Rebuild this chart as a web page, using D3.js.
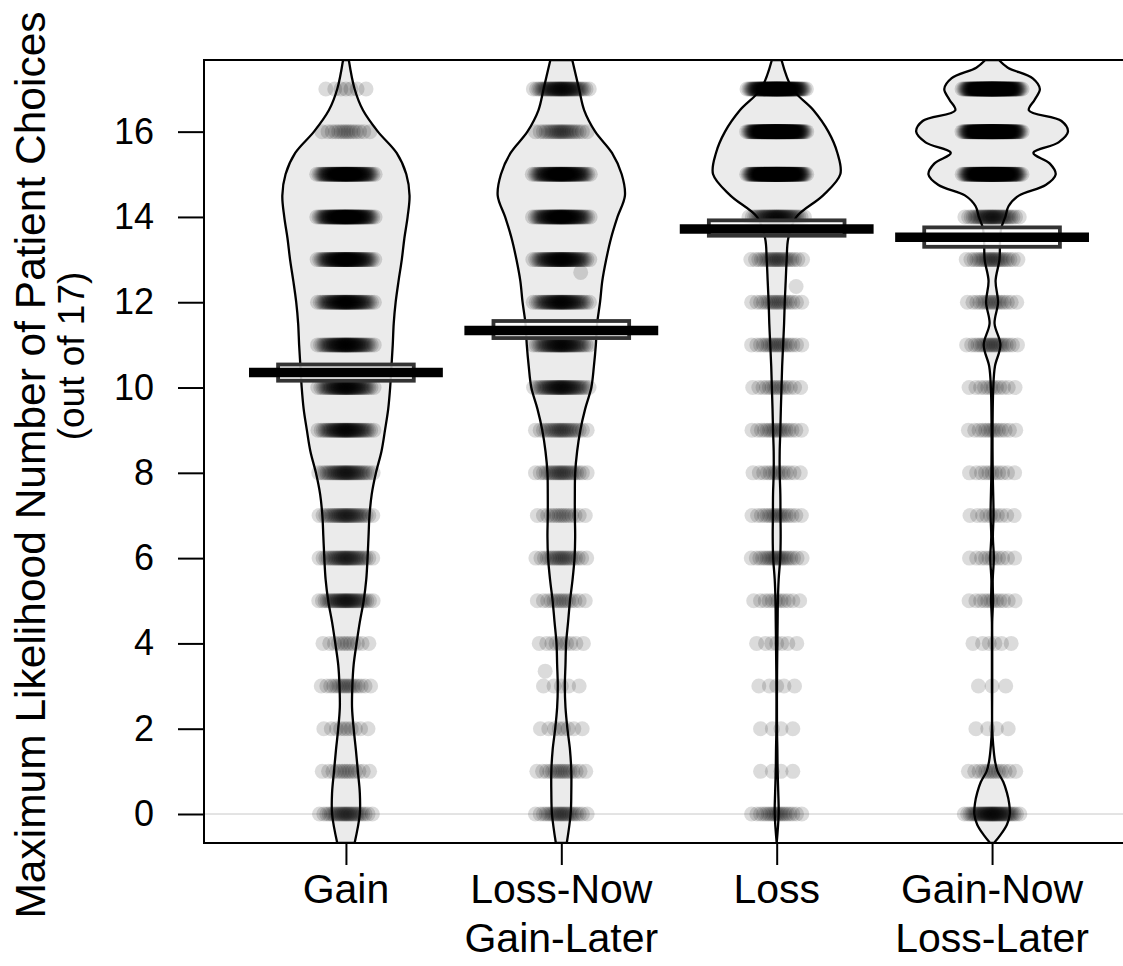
<!DOCTYPE html>
<html>
<head>
<meta charset="utf-8">
<script src="https://cdn.jsdelivr.net/npm/d3@7"></script>
<style>
  body { margin: 0; background: #fff; }
  text { font-family: "Liberation Sans", Arial, Helvetica, sans-serif; fill: #000; }
</style>
</head>
<body>
<div id="chart"></div>
<script>
// conditions (x axis), "\n" splits a label in two lines
var groups = ["Gain", "Loss-Now\nGain-Later", "Loss", "Gain-Now\nLoss-Later"];

// possible answers 0..17 and how many participants gave each one
var levels = [0, 1, 2, 3, 4, 5, 6, 7, 8, 9, 10, 11, 12, 13, 14, 15, 16, 17];
var countsGain = [30, 14, 10, 18, 12, 40, 35, 35, 40, 55, 60, 65, 70, 85, 105, 110, 15, 7];
var countsLNGL = [25, 17, 8, 5, 10, 15, 22, 15, 25, 25, 50, 55, 60, 70, 85, 95, 25, 55];
var countsLoss = [20, 4, 4, 5, 7, 12, 22, 18, 14, 18, 15, 20, 20, 25, 50, 200, 200, 150];
var countsGNLL = [50, 14, 4, 3, 6, 12, 11, 10, 11, 14, 12, 22, 18, 25, 40, 180, 210, 200];

// a few off-level estimates: [group index, value]
var extraPoints = [[1, 12.7], [1, 3.35], [2, 12.37]];

// 95% HDI of the mean
var hdiLow  = [10.16, 11.16, 13.56, 13.30];
var hdiHigh = [10.54, 11.56, 13.92, 13.755];

var yTicks = [0, 2, 4, 6, 8, 10, 12, 14, 16];

// smoothed density of each bean: [value, relative density]
var beanGain = [[-0.68,.15],[0,.23],[0.5,.23],[1,.20],[1.5,.17],[2,.135],[2.5,.11],[3,.115],[3.5,.135],[4,.18],[4.5,.23],[5,.29],[5.5,.33],[6,.35],[6.5,.365],[7,.38],[7.5,.415],[8,.48],[8.5,.565],[9,.62],[9.5,.67],[10,.70],[10.5,.72],[11,.74],[11.5,.755],[12,.785],[12.5,.83],[13,.88],[13.5,.92],[14,.97],[14.5,1.0],[15,.95],[15.5,.80],[16,.51],[16.5,.28],[17,.15],[17.68,.06]];
var beanLNGL = [[-0.68,.10],[0,.16],[0.5,.17],[1,.17],[1.5,.15],[2,.11],[2.5,.08],[3,.07],[3.5,.08],[4,.09],[4.5,.12],[5,.15],[5.5,.19],[6,.22],[6.5,.23],[7,.225],[7.5,.225],[8,.23],[8.5,.26],[9,.31],[9.5,.385],[10,.48],[10.5,.52],[11,.55],[11.5,.57],[12,.615],[12.5,.65],[13,.71],[13.5,.785],[14,.885],[14.5,1.0],[15,.95],[15.5,.80],[16,.54],[16.5,.37],[17,.29],[17.68,.185]];
var beanLoss = [[-0.68,.01],[0,.046],[0.5,.04],[1,.03],[1.5,.026],[2,.02],[3,.02],[4,.026],[4.5,.03],[5,.034],[5.5,.046],[6,.07],[6.5,.077],[7,.074],[7.5,.072],[8,.062],[8.5,.062],[9,.072],[9.5,.08],[10,.09],[10.5,.10],[11,.115],[11.5,.13],[12,.14],[12.5,.155],[13,.17],[13.5,.195],[14,.32],[14.5,.73],[15,1.0],[15.5,.955],[16,.815],[16.5,.585],[17,.26],[17.68,.09]];
var beanGNLL = [[-0.68,.045],[-0.5,.14],[-0.25,.245],[0,.29],[0.25,.28],[0.5,.245],[0.75,.19],[1,.10],[1.25,.06],[1.6,.034],[2,.018],[3,.018],[4,.018],[4.5,.018],[5,.03],[5.5,.026],[6,.043],[6.5,.028],[7,.038],[8,.026],[9,.023],[10,.034],[10.5,.06],[11,.145],[11.5,.054],[12,.108],[12.5,.07],[13,.13],[13.5,.14],[13.75,.16],[14,.22],[14.25,.27],[14.5,.43],[14.75,.845],[15,1.0],[15.25,.91],[15.5,.655],[15.75,1.045],[16,1.19],[16.25,1.09],[16.5,.585],[16.75,.675],[17,.755],[17.25,.645],[17.5,.26],[17.68,.12]];

var counts = [countsGain, countsLNGL, countsLoss, countsGNLL];
var beans = [beanGain, beanLNGL, beanLoss, beanGNLL];

// location and scale of the graph
var W = 1123, H = 966;
var plot = {left: 204, right: 1134, top: 60, bottom: 843};

var svg = d3.select("#chart")
  .append("svg")
  .attr("width", W)
  .attr("height", H);

var x = d3.scaleLinear().domain([0.341, 4.659]).range([plot.left, plot.right]);
var y = d3.scaleLinear().domain([-0.68, 17.68]).range([plot.bottom, plot.top]);

var beanMax = 0.30;     // half width of the widest bean, in x units
var jitterAmt = 0.15;   // horizontal jitter of points, in x units
var avgHalf = 0.45, infHalf = 0.315;

svg.append("clipPath").attr("id", "plotclip")
  .append("rect")
  .attr("x", plot.left).attr("y", plot.top)
  .attr("width", plot.right - plot.left).attr("height", plot.bottom - plot.top);

var inner = svg.append("g").attr("clip-path", "url(#plotclip)");

// reference line at 0
inner.append("line")
  .attr("x1", plot.left).attr("x2", plot.right)
  .attr("y1", y(0)).attr("y2", y(0))
  .attr("stroke", "#c8c8c8").attr("stroke-width", 1);

// beans
function beanArea(g) {
  var c = g + 1;
  return d3.area()
    .curve(d3.curveCatmullRom)
    .y(function(d) { return y(d[0]); })
    .x0(function(d) { return Math.min(x(c), x(c - d[1] * beanMax) + 1); })
    .x1(function(d) { return Math.max(x(c), x(c + d[1] * beanMax) - 1); });
}

inner.selectAll(".beanfill")
  .data(beans)
  .enter()
  .append("path")
  .attr("class", "beanfill")
  .attr("d", function(d, g) { return beanArea(g)(d); })
  .attr("fill", "#ebebeb")
  .attr("stroke", "none");

// raw data points; sideways spread is fixed (quantiles of a triangle), not random
function spread(k, n) {
  var p = (k + 0.5) / n;
  return p < 0.5 ? Math.sqrt(2 * p) - 1 : 1 - Math.sqrt(2 * (1 - p));
}

var points = [];
var values = [[], [], [], []];
counts.forEach(function(row, g) {
  row.forEach(function(n, i) {
    for (var k = 0; k < n; k++) {
      points.push({g: g, v: levels[i], u: spread(k, n)});
      values[g].push(levels[i]);
    }
  });
});
extraPoints.forEach(function(p, j) {
  points.push({g: p[0], v: p[1], u: j % 2 ? -0.5 : 0.6});
  values[p[0]].push(p[1]);
});

inner.append("g")
  .selectAll("circle")
  .data(points)
  .enter()
  .append("circle")
  .attr("cx", function(d) { return x(d.g + 1 + d.u * jitterAmt); })
  .attr("cy", function(d) { return y(d.v); })
  .attr("r", 7.5)
  .attr("fill", "#000")
  .attr("fill-opacity", 0.14);

inner.selectAll(".beanline")
  .data(beans)
  .enter()
  .append("path")
  .attr("class", "beanline")
  .attr("d", function(d, g) { return beanArea(g)(d); })
  .attr("fill", "none")
  .attr("stroke", "#000")
  .attr("stroke-width", 2.3);

// inference boxes
var means = values.map(function(v) { return d3.mean(v); });

svg.append("g")
  .selectAll("rect")
  .data(groups)
  .enter()
  .append("rect")
  .attr("x", function(d, g) { return x(g + 1 - infHalf); })
  .attr("width", function(d, g) { return x(g + 1 + infHalf) - x(g + 1 - infHalf); })
  .attr("y", function(d, g) { return y(hdiHigh[g]); })
  .attr("height", function(d, g) { return y(hdiLow[g]) - y(hdiHigh[g]); })
  .attr("fill", "#fff")
  .attr("fill-opacity", 0.85)
  .attr("stroke", "#333")
  .attr("stroke-width", 3.8);

// mean bars
svg.append("g")
  .selectAll("line")
  .data(means)
  .enter()
  .append("line")
  .attr("x1", function(d, g) { return x(g + 1 - avgHalf); })
  .attr("x2", function(d, g) { return x(g + 1 + avgHalf); })
  .attr("y1", function(d) { return y(d); })
  .attr("y2", function(d) { return y(d); })
  .attr("stroke", "#000")
  .attr("stroke-width", 9.5);

// plot frame
svg.append("rect")
  .attr("x", plot.left).attr("y", plot.top)
  .attr("width", plot.right - plot.left).attr("height", plot.bottom - plot.top)
  .attr("fill", "none")
  .attr("stroke", "#000")
  .attr("stroke-width", 2);

// y axis
var yAxis = svg.append("g")
  .attr("transform", "translate(" + plot.left + ",0)")
  .call(d3.axisLeft(y).tickValues(yTicks).tickSize(26).tickPadding(24));
yAxis.select(".domain").remove();
yAxis.selectAll("line").attr("stroke", "#000").attr("stroke-width", 2);
yAxis.selectAll("text")
  .style("font-size", "36px")
  .style("font-family", "'Liberation Sans', Arial, sans-serif");

// x axis
var xAxis = svg.append("g")
  .attr("transform", "translate(0," + plot.bottom + ")")
  .call(d3.axisBottom(x).tickValues([1, 2, 3, 4]).tickSize(22).tickFormat(""));
xAxis.select(".domain").remove();
xAxis.selectAll("line").attr("stroke", "#000").attr("stroke-width", 2);

var xLab = svg.append("g")
  .selectAll("text")
  .data(groups)
  .enter()
  .append("text")
  .attr("text-anchor", "middle")
  .style("font-size", "41px");
xLab.each(function(d, g) {
  var lines = d.split("\n");
  var t = d3.select(this);
  lines.forEach(function(s, j) {
    t.append("tspan")
      .attr("x", x(g + 1))
      .attr("y", 903 + j * 49)
      .text(s);
  });
});

// y axis title
svg.append("text")
  .attr("transform", "translate(45,465) rotate(-90)")
  .attr("text-anchor", "middle")
  .style("font-size", "42.5px")
  .text("Maximum Likelihood Number of Patient Choices");
svg.append("text")
  .attr("transform", "translate(84,356) rotate(-90)")
  .attr("text-anchor", "middle")
  .style("font-size", "37px")
  .text("(out of 17)");
</script>
</body>
</html>
